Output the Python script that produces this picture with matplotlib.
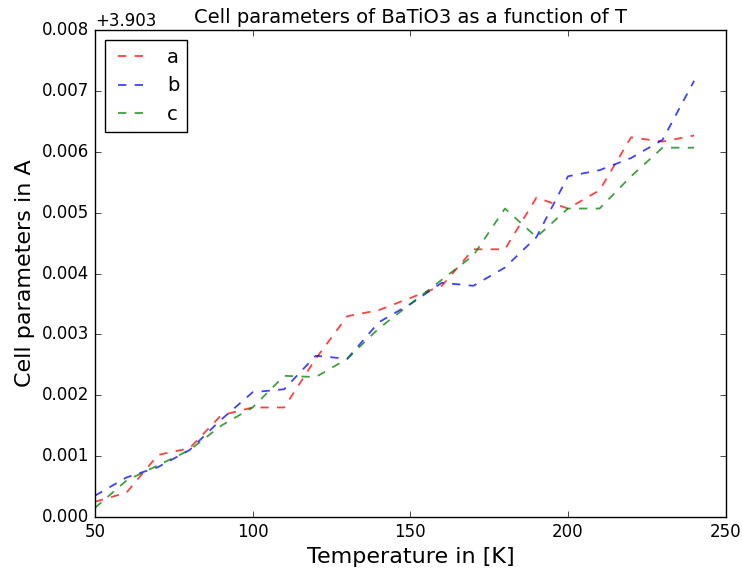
import numpy as np
import matplotlib.pyplot as plt

plt.style.use('classic')

# temperatures and cell parameters (offset from 3.903 A)
T = np.arange(50, 250, 10)
base = 3.903
a = [0.00025, 0.0004, 0.00102, 0.00113, 0.00167, 0.0018, 0.0018, 0.0026, 0.0033, 0.0034,
     0.0036, 0.0038, 0.0044, 0.0044, 0.00525, 0.00507, 0.00537, 0.00624, 0.00617, 0.00627]
b = [0.00035, 0.00065, 0.00082, 0.0011, 0.0016, 0.00205, 0.0021, 0.00265, 0.0026, 0.0032,
     0.0035, 0.00385, 0.0038, 0.0041, 0.0046, 0.0056, 0.0057, 0.0059, 0.0062, 0.00717]
c = [0.00015, 0.0006, 0.00085, 0.0011, 0.0015, 0.0018, 0.00232, 0.0023, 0.0026, 0.0031,
     0.0035, 0.0039, 0.0043, 0.00507, 0.0046, 0.00507, 0.00507, 0.0056, 0.00607, 0.00607]

fig = plt.figure(figsize=(7.42, 5.71), dpi=100, facecolor='white')
ax = fig.add_axes([0.128, 0.0946, 0.85, 0.8524])

ax.plot(T, base + np.array(a), 'r--', alpha=0.75, lw=1.3, label='a')
ax.plot(T, base + np.array(b), 'b--', alpha=0.75, lw=1.3, label='b')
ax.plot(T, base + np.array(c), 'g--', alpha=0.75, lw=1.3, label='c')

ax.set_xlim(50, 250)
ax.set_ylim(base, base + 0.008)
ax.ticklabel_format(axis='y', useOffset=base)

ax.set_title('Cell parameters of BaTiO3 as a function of T', fontsize=14)
ax.set_xlabel('Temperature in [K]', fontsize=16)
ax.set_ylabel('Cell parameters in A', fontsize=16)
ax.legend(loc=2, fontsize=14)

fig.savefig('out.png', dpi=100, facecolor='white')
